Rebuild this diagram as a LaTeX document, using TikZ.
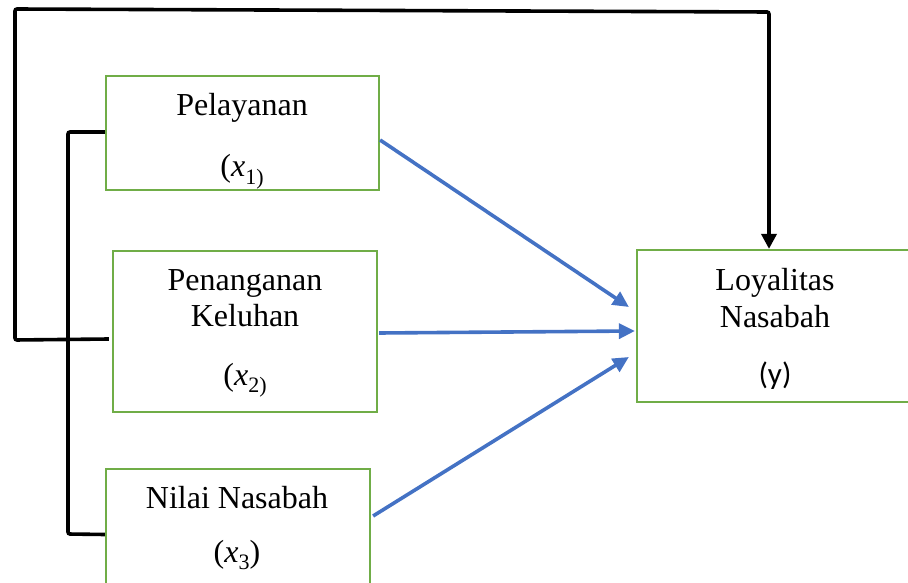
\documentclass[tikz,border=0pt]{standalone}
\usepackage{fontspec}
\setmainfont{Liberation Serif}
\newfontfamily\calib{Carlito}
\usetikzlibrary{arrows.meta,calc}
\definecolor{boxgreen}{HTML}{70AD47}
\definecolor{arrblue}{HTML}{4472C4}
\newcommand{\subtx}[1]{\raisebox{-0.22em}{\fontsize{22}{22}\selectfont #1}}
\begin{document}
\begin{tikzpicture}[x=1pt,y=-1pt,
  box/.style={draw=boxgreen,line width=2.2pt,fill=none,inner sep=0pt},
  txt/.style={anchor=base,inner sep=0pt,font=\fontsize{32}{38}\selectfont},
  blue/.style={draw=arrblue,line width=3.6pt,-{Triangle[length=16pt,width=15pt]}},
  blk/.style={draw=black,line width=3.6pt,rounded corners=2pt}]
\useasboundingbox (0,0) rectangle (908,583);
\clip (0,0) rectangle (908,583);
% boxes
\node[box,minimum width=273pt,minimum height=114pt] (p) at (242.5,133) {};
\node[box,minimum width=264pt,minimum height=161pt] (k) at (245,331.5) {};
\node[box,minimum width=264pt,minimum height=131pt] (n) at (238,534.5) {};
\node[box,minimum width=278pt,minimum height=152pt] (l) at (776,326) {};
% texts
\node[txt] (pt) at (242,116) {Pelayanan};
\node[txt] (px) at (242,177) {(\textit{x}\subtx{1)}};
\node[txt] (kt1) at (245,290) {Penanganan};
\node[txt] (kt2) at (245,326) {Keluhan};
\node[txt] (kx) at (245,385) {(\textit{x}\subtx{2)}};
\node[txt] (nt) at (237,508) {Nilai Nasabah};
\node[txt] (nx) at (237,562) {(\textit{x}\subtx{3})};
\node[txt] (lt1) at (775,290) {Loyalitas};
\node[txt] (lt2) at (775,327) {Nasabah};
\node[txt,font=\calib\fontsize{31}{36}\selectfont] (ly) at (775,384) {(y)};
% blue arrows
\draw[blue] ($(p.east)+(0,7)$) -- ($(l.west)+(-7,-19)$);
\draw[blue] ($(k.east)+(1,1.5)$) -- ($(l.west)+(-1,5)$);
\draw[blue] ($(n.east)+(2,-18.5)$) -- ($(l.west)+(-7,31)$);
% outer loop
\coordinate (lt) at ($(l.north)+(-7,0)$);
\draw[blk,-{Triangle[length=15pt,width=15pt]}] ($(k.west)+(-3,7.5)$) -- (15,340) -- (15,9) -- (769,12) -- (lt);
% bracket
\draw[blk] ($(p.west)+(0,-1)$) -- (68,132) -- (68,534) -- (n.west);
\end{tikzpicture}
\end{document}
